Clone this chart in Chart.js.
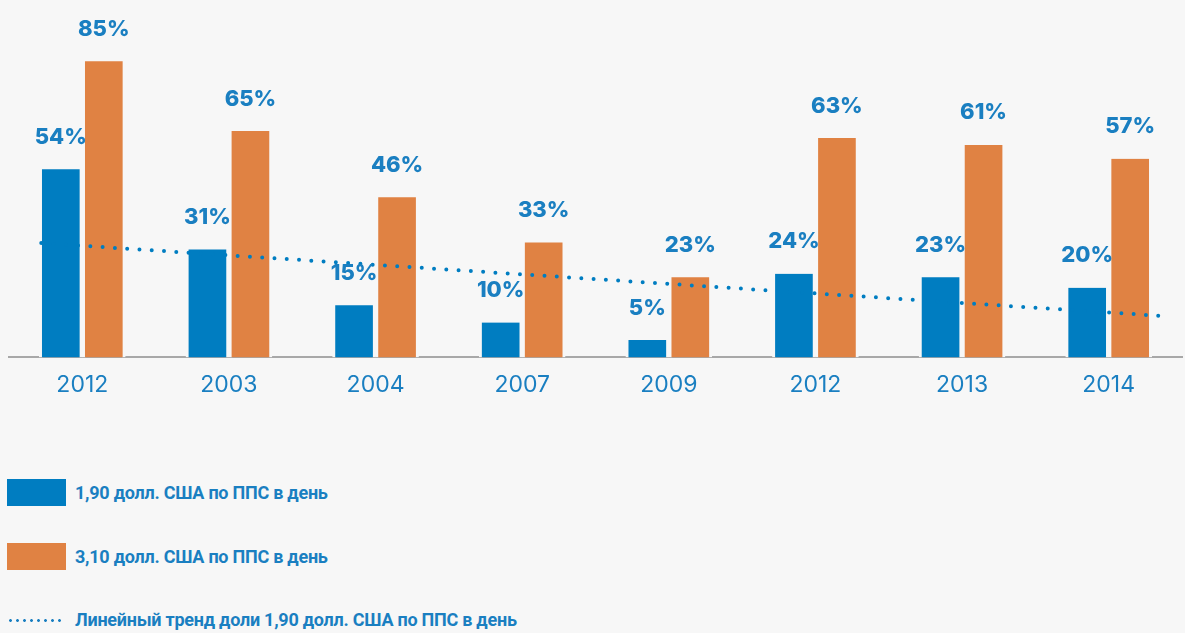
<!DOCTYPE html>
<html><head><meta charset="utf-8">
<script src="https://cdn.jsdelivr.net/npm/chart.js@4"></script>
<style>
html,body{margin:0;padding:0;background:#f7f7f7;width:1185px;height:633px;overflow:hidden;font-family:Inter,"Noto Sans",sans-serif;}
#wrap{position:absolute;left:0;top:0;width:1185px;height:413px;}
.lg{position:absolute;left:0;width:800px;height:30px;}
.sw{position:absolute;left:7px;width:59px;height:27px;}
.tx{position:absolute;left:75px;font-family:Roboto,"Noto Sans",sans-serif;font-weight:700;font-size:18px;letter-spacing:-0.25px;color:#1a7fc1;white-space:nowrap;line-height:20px;}
.dots{position:absolute;left:7px;width:57px;height:3px;background-image:radial-gradient(circle,#1a7fc1 1.2px,transparent 1.6px);background-size:7px 3px;background-repeat:repeat-x;}
</style></head>
<body>
<div id="wrap"><canvas id="c"></canvas></div>
<div id="legend"></div>
<script>
const categories = ['2012','2003','2004','2007','2009','2012','2013','2014'];
const share190 = [54,31,15,10,5,24,23,20];
const share310 = [85,65,46,33,23,63,61,57];
const trendX = [-0.28, 7.40];
const trendY = [32.8, 11.8];
const seriesNames = ['1,90 долл. США по ППС в день','3,10 долл. США по ППС в день','Линейный тренд доли 1,90 долл. США по ППС в день'];
const BLUE = '#007dc1', ORANGE = '#e08243', TEXT = '#1a7fc1', BG = '#f7f7f7';

const labelPlugin = {
  id:'barLabels',
  afterDatasetsDraw(chart){
    const ctx = chart.ctx;
    ctx.save();
    ctx.font = '800 22px Inter, "Noto Sans", sans-serif';
    ctx.fillStyle = TEXT;
    ctx.textAlign = 'center';
    ctx.textBaseline = 'middle';
    chart.data.datasets.forEach((ds,i)=>{
      if(ds.type !== 'bar') return;
      chart.getDatasetMeta(i).data.forEach((el,j)=>{
        ctx.fillText(ds.data[j] + '%', el.x, el.y - 32);
      });
    });
    ctx.restore();
  }
};

const barStyle = {barThickness:43, borderWidth:{left:3,right:3,top:0,bottom:0}, borderColor:BG, borderSkipped:false, order:1};

new Chart(document.getElementById('c'), {
  type:'bar',
  data:{
    labels: categories,
    datasets:[
      {type:'line', label:seriesNames[2], xAxisID:'xt', order:0,
       data: trendX.map((x,i)=>({x:x, y:trendY[i]})),
       borderColor:BLUE, borderWidth:4, borderDash:[0,12.3], borderCapStyle:'round',
       pointRadius:0, fill:false, tension:0},
      Object.assign({type:'bar', label:seriesNames[0], data:share190, backgroundColor:BLUE}, barStyle),
      Object.assign({type:'bar', label:seriesNames[1], data:share310, backgroundColor:ORANGE}, barStyle)
    ]
  },
  options:{
    responsive:true, maintainAspectRatio:false, animation:false,
    layout:{padding:{top:9,left:9,right:3,bottom:0}},
    plugins:{legend:{display:false}, tooltip:{enabled:false}},
    scales:{
      x:{type:'category', offset:true,
         grid:{display:false, drawTicks:false, offset:true},
         border:{display:true, color:'#a8a8a8', width:2},
         ticks:{color:TEXT, padding:14, font:{family:'Inter', size:23, weight:'400'}}},
      xt:{type:'linear', display:false, offset:false, min:-0.5, max:7.5},
      y:{display:false, min:0, max:100}
    }
  },
  plugins:[labelPlugin]
});

const lg = document.getElementById('legend');
const rows = [
  {kind:'box', color:BLUE, top:479, text:seriesNames[0]},
  {kind:'box', color:ORANGE, top:543, text:seriesNames[1]},
  {kind:'dots', top:606, text:seriesNames[2]}
];
rows.forEach(r=>{
  const d = document.createElement('div');
  d.className='lg'; d.style.top = r.top + 'px';
  if(r.kind==='box'){
    const s=document.createElement('div'); s.className='sw'; s.style.top='0px'; s.style.background=r.color; d.appendChild(s);
  } else {
    const s=document.createElement('div'); s.className='dots'; s.style.top='13px'; d.appendChild(s);
  }
  const t=document.createElement('div'); t.className='tx'; t.style.top='4px'; t.textContent=r.text; d.appendChild(t);
  lg.appendChild(d);
});
</script>
</body></html>
